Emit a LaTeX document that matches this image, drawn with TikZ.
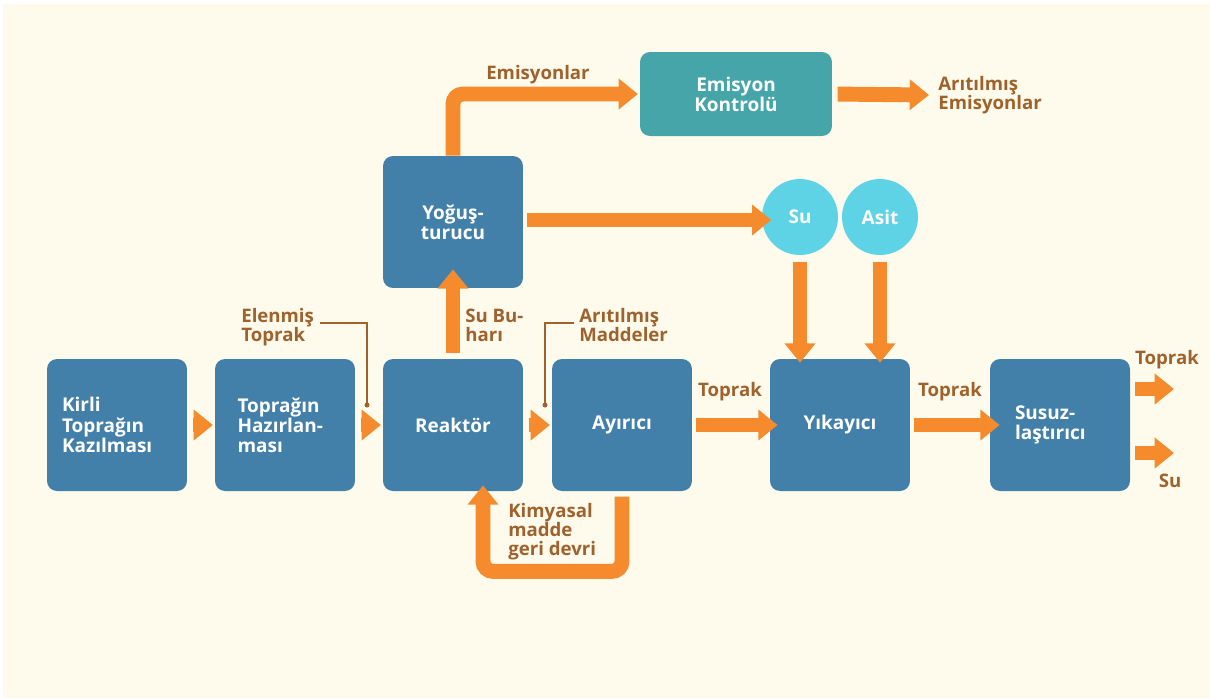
\documentclass[tikz,border=0pt]{standalone}
\usepackage{fontspec}
\setmainfont{Open Sans}
\usetikzlibrary{arrows.meta,calc}
\definecolor{bgc}{HTML}{FEFBEC}
\definecolor{boxblue}{HTML}{4280AA}
\definecolor{teal}{HTML}{45A5A8}
\definecolor{cyanc}{HTML}{5DD3E5}
\definecolor{flowc}{HTML}{F68B2E}
\definecolor{brownc}{HTML}{A0622D}
\tikzset{
  box/.style={fill=boxblue, rounded corners=0.2cm, minimum width=2.8cm, minimum height=2.64cm,
    text=white, font=\bfseries\fontsize{10.8}{11.5}\selectfont, align=left, inner sep=0pt},
  tbox/.style={box, fill=teal, minimum width=3.84cm, minimum height=1.68cm, align=center},
  circ/.style={circle, fill=cyanc, minimum size=1.52cm, inner sep=0pt, text=white,
    font=\bfseries\fontsize{10.8}{11.5}\selectfont},
  flow/.style={draw=flowc, line width=8.5pt, -{Triangle[length=11pt,width=17pt]}},
  lbl/.style={text=brownc, font=\bfseries\fontsize{10.6}{10.8}\selectfont, align=left, inner sep=0pt},
  lead/.style={draw=brownc, line width=1pt},
}
\begin{document}
\begin{tikzpicture}[x=0.02cm,y=-0.02cm]
\fill[white] (0,0) rectangle (1210,698);
\fill[bgc] (3,4) rectangle (1210,698);
\useasboundingbox (0,0) rectangle (1210,698);

\node[box, text width=2.2cm] (kirli) at (117,425) {Kirli\\Toprağın\\Kazılması};
\node[box, text width=1.9cm] (hazir) at (285,425) {Toprağın\\Hazırlan-\\ması};
\node[box, align=center] (reak) at (453,425) {Reaktör};
\node[box, align=center] (ayir) at (622,425) {Ayırıcı};
\node[box, align=center] (yik) at (840,425) {Yıkayıcı};
\node[box, text width=1.8cm] (susuz) at (1060,425) {Susuz-\\laştırıcı};
\node[box, align=center] (yog) at (453,222) {Yoğuş-\\turucu};
\node[tbox] (emis) at (736,94) {Emisyon\\Kontrolü};
\node[circ] (su) at (800,217) {Su};
\node[circ] (asit) at (880,217) {Asit};

\coordinate (topout0) at (1135,389);
\coordinate (topout1) at (1174,389);
\coordinate (suout0) at (1135,453);
\coordinate (suout1) at (1174,453);
\coordinate (emout) at (929,95);

\draw[flow, shorten <=3pt, shorten >=1pt] (kirli) -- (hazir);
\draw[flow, shorten <=3pt, shorten >=1pt] (hazir) -- (reak);
\draw[flow, shorten <=3pt, shorten >=1pt] (reak) -- (ayir);
\draw[flow, shorten <=2pt, shorten >=-4.5pt] (ayir) -- (yik);
\draw[flow, shorten <=2pt, shorten >=-5.7pt] (yik) -- (susuz);
\draw[flow, shorten <=3pt, shorten >=-10.8pt] (reak) -- (yog);
\draw[flow, rounded corners=0.2cm, shorten >=1pt] (yog.north) -- (yog.north |- emis.west) -- (emis.west);
\draw[flow, shorten <=3pt] (emis.east) -- (emout);
\draw[flow, shorten <=2pt, shorten >=-5.5pt] (yog.east |- 0,220) -- (su.west |- 0,220);
\draw[flow, shorten <=4pt, shorten >=-2.3pt] (su.south) -- (su.south |- yik.north);
\draw[flow, shorten <=4pt, shorten >=-2.3pt] (asit.south) -- (asit.south |- yik.north);
\draw[flow, rounded corners=0.2cm, shorten <=3pt, shorten >=-3.4pt] (ayir.south) -- ++(0,80) -| ($(reak.south)+(30,0)$);
\draw[flow] (topout0) -- (topout1);
\draw[flow] (suout0) -- (suout1);

\node[lbl, anchor=south] (lemis) at (538,84) {Emisyonlar};
\node[lbl, anchor=west] (laem) at (938,95) {Arıtılmış\\Emisyonlar};
\node[lbl, anchor=west] (lelen) at (241,327) {Elenmiş\\Toprak};
\node[lbl, anchor=west] (lmad) at (579,325) {Arıtılmış\\Maddeler};
\node[lbl, anchor=west] (lbuh) at (465,325) {Su Bu-\\harı};
\node[lbl] (lt1) at (730,392) {Toprak};
\node[lbl] (lt2) at (950,392) {Toprak};
\node[lbl] (lt3) at (1167,360) {Toprak};
\node[lbl] (lsu) at (1170,481) {Su};
\node[lbl, anchor=north west] (lkim) at (508,503) {Kimyasal\\madde\\geri devri};

\coordinate (d1) at (367,405);
\coordinate (d2) at (545,405);
\draw[lead] (lelen.east |- 0,323) ++(6,0) -| (d1);
\fill[brownc] (d1) circle (2.5);
\draw[lead] (lmad.west |- 0,323) ++(-5,0) -| (d2);
\fill[brownc] (d2) circle (2.5);
\end{tikzpicture}
\end{document}
